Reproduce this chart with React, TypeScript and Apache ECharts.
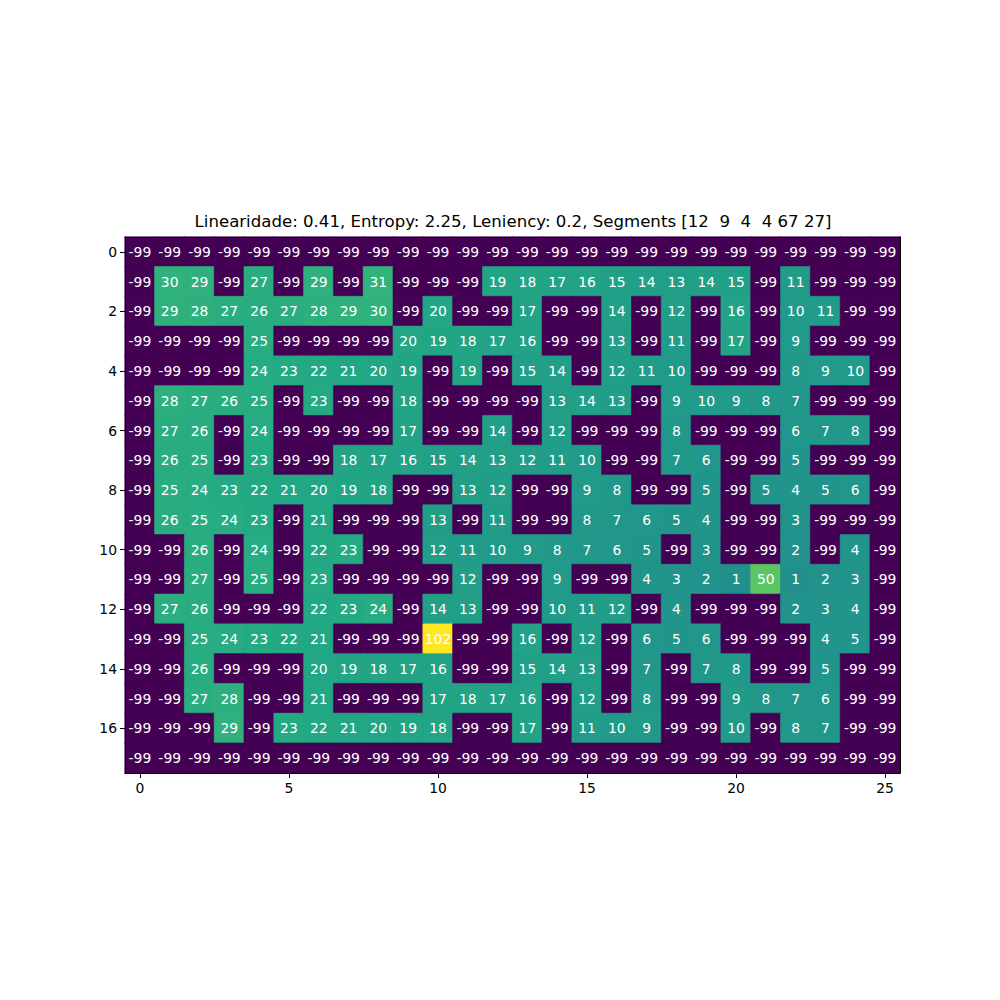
import React, { useEffect, useRef } from "react";
import * as echarts from "echarts";

const titleText = "Linearidade: 0.41, Entropy: 2.25, Leniency: 0.2, Segments [12  9  4  4 67 27]";

const X = -99;
const gridRows: number[][] = [
  [X, X, X, X, X, X, X, X, X, X, X, X, X, X, X, X, X, X, X, X, X, X, X, X, X, X],
  [X, 30, 29, X, 27, X, 29, X, 31, X, X, X, 19, 18, 17, 16, 15, 14, 13, 14, 15, X, 11, X, X, X],
  [X, 29, 28, 27, 26, 27, 28, 29, 30, X, 20, X, X, 17, X, X, 14, X, 12, X, 16, X, 10, 11, X, X],
  [X, X, X, X, 25, X, X, X, X, 20, 19, 18, 17, 16, X, X, 13, X, 11, X, 17, X, 9, X, X, X],
  [X, X, X, X, 24, 23, 22, 21, 20, 19, X, 19, X, 15, 14, X, 12, 11, 10, X, X, X, 8, 9, 10, X],
  [X, 28, 27, 26, 25, X, 23, X, X, 18, X, X, X, X, 13, 14, 13, X, 9, 10, 9, 8, 7, X, X, X],
  [X, 27, 26, X, 24, X, X, X, X, 17, X, X, 14, X, 12, X, X, X, 8, X, X, X, 6, 7, 8, X],
  [X, 26, 25, X, 23, X, X, 18, 17, 16, 15, 14, 13, 12, 11, 10, X, X, 7, 6, X, X, 5, X, X, X],
  [X, 25, 24, 23, 22, 21, 20, 19, 18, X, X, 13, 12, X, X, 9, 8, X, X, 5, X, 5, 4, 5, 6, X],
  [X, 26, 25, 24, 23, X, 21, X, X, X, 13, X, 11, X, X, 8, 7, 6, 5, 4, X, X, 3, X, X, X],
  [X, X, 26, X, 24, X, 22, 23, X, X, 12, 11, 10, 9, 8, 7, 6, 5, X, 3, X, X, 2, X, 4, X],
  [X, X, 27, X, 25, X, 23, X, X, X, X, 12, X, X, 9, X, X, 4, 3, 2, 1, 50, 1, 2, 3, X],
  [X, 27, 26, X, X, X, 22, 23, 24, X, 14, 13, X, X, 10, 11, 12, X, 4, X, X, X, 2, 3, 4, X],
  [X, X, 25, 24, 23, 22, 21, X, X, X, 102, X, X, 16, X, 12, X, 6, 5, 6, X, X, X, 4, 5, X],
  [X, X, 26, X, X, X, 20, 19, 18, 17, 16, X, X, 15, 14, 13, X, 7, X, 7, 8, X, X, 5, X, X],
  [X, X, 27, 28, X, X, 21, X, X, X, 17, 18, 17, 16, X, 12, X, 8, X, X, 9, 8, 7, 6, X, X],
  [X, X, X, 29, X, 23, 22, 21, 20, 19, 18, X, X, 17, X, 11, 10, 9, X, X, 10, X, 8, 7, X, X],
  [X, X, X, X, X, X, X, X, X, X, X, X, X, X, X, X, X, X, X, X, X, X, X, X, X, X],
];

const xCategories = Array.from({ length: 26 }, (_, i) => String(i));
const yCategories = Array.from({ length: 18 }, (_, i) => String(i));

const viridis = [
  "#440154", "#482475", "#414487", "#355f8d", "#2a788e",
  "#21918c", "#22a884", "#44bf70", "#7ad151", "#bddf26", "#fde725",
];
const vMin = -99;
const vMax = 102;

export default function App() {
  const ref = useRef<HTMLDivElement>(null);
  useEffect(() => {
    if (!ref.current) return;
    const chart = echarts.init(ref.current, undefined, { renderer: "svg" });
    const data: any[] = [];
    gridRows.forEach((row, r) =>
      row.forEach((v, c) => {
        const t = (v - vMin) / (vMax - vMin);
        const edge = echarts.color.lerp(t, viridis) as string;
        data.push({ value: [c, r, v], itemStyle: { borderColor: edge, borderWidth: 0.6 } });
      })
    );
    const font = "DejaVu Sans";
    chart.setOption({
      animation: false,
      backgroundColor: "#ffffff",
      title: {
        text: titleText,
        left: 508,
        top: 208,
        textAlign: "center",
        textStyle: { fontFamily: font, fontSize: 16.6, fontWeight: "normal", color: "#000" },
      },
      grid: {
        left: 125, top: 237, width: 775, height: 536,
        show: false,
      },
      visualMap: {
        type: "continuous", min: vMin, max: vMax, show: false,
        inRange: { color: viridis }, dimension: 2,
      },
      xAxis: [
        {
          type: "category",
          data: xCategories,
          axisLine: { show: true, onZero: false, lineStyle: { color: "#000" } },
          axisTick: { show: true, alignWithLabel: true, interval: 4, length: 5, lineStyle: { color: "#000" } },
          axisLabel: { interval: 4, fontFamily: font, fontSize: 13.9, color: "#000", margin: 8 },
          splitLine: { show: false },
          z: 10,
        },
        {
          type: "category",
          data: xCategories,
          position: "top",
          axisLine: { show: true, onZero: false, lineStyle: { color: "#000" } },
          axisTick: { show: false },
          axisLabel: { show: false },
          splitLine: { show: false },
          z: 10,
        },
      ],
      yAxis: [
        {
          type: "category",
          data: yCategories,
          inverse: true,
          axisLine: { show: true, onZero: false, lineStyle: { color: "#000" } },
          axisTick: { show: true, alignWithLabel: true, interval: 1, length: 5, lineStyle: { color: "#000" } },
          axisLabel: { interval: 1, fontFamily: font, fontSize: 13.9, color: "#000", margin: 8 },
          splitLine: { show: false },
          z: 10,
        },
        {
          type: "category",
          data: yCategories,
          inverse: true,
          position: "right",
          axisLine: { show: true, onZero: false, lineStyle: { color: "#000" } },
          axisTick: { show: false },
          axisLabel: { show: false },
          splitLine: { show: false },
          z: 10,
        },
      ],
      series: [
        {
          type: "heatmap",
          data,
          label: {
            show: true,
            color: "#fff",
            fontFamily: font,
            fontSize: 13.9,
            formatter: (p: any) => String(p.value[2]),
          },
          emphasis: { disabled: true },
        },
      ],
    });
    return () => chart.dispose();
  }, []);
  return (
    <div
      ref={ref}
      style={{ position: "absolute", left: 0, top: 0, width: 1000, height: 1000 }}
    />
  );
}
